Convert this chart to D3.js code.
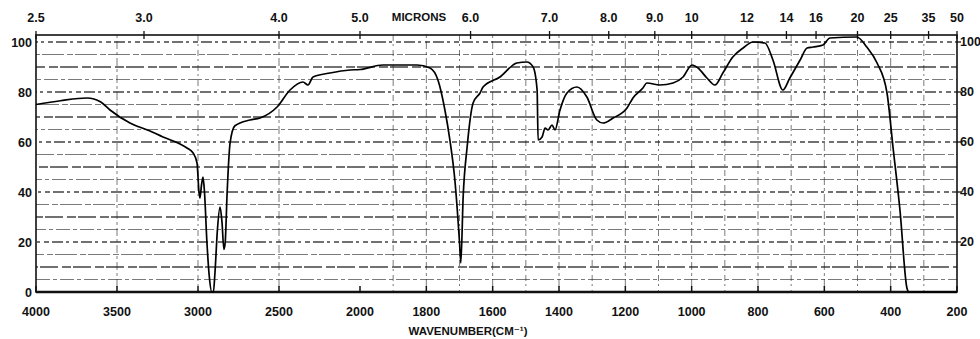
<!DOCTYPE html>
<html>
<head>
<meta charset="utf-8">
<script src="https://cdn.jsdelivr.net/npm/d3@7"></script>
<style>
  body { margin: 0; background: #fff; }
  svg { display: block; }
  text { font-family: "Liberation Sans", "DejaVu Sans", sans-serif; font-weight: bold; fill: #111; }
</style>
</head>
<body>
<div id="chart"></div>
<script>
// spectrum trace (cm-1, %T)
const wavenumbers = [4000, 3850, 3685, 3600, 3543, 3420, 3300, 3216, 3120, 3068, 3030, 3006, 2994, 2988, 2978, 2969,
  2960, 2945, 2930, 2915, 2905, 2895, 2880, 2864, 2852, 2840, 2832, 2820, 2802, 2772, 2679, 2617, 2512, 2432, 2352,
  2321, 2290, 2185, 2062, 2000, 1931, 1828, 1789, 1765, 1744, 1729, 1714, 1700, 1696, 1689, 1677, 1659, 1638, 1629,
  1578, 1527, 1497, 1478, 1466, 1463, 1451, 1442, 1433, 1421, 1412, 1397, 1376, 1346, 1316, 1286, 1267, 1237, 1195,
  1177, 1147, 1135, 1096, 1056, 1026, 999, 981, 954, 930, 906, 876, 845, 815, 779, 755, 725, 704, 673, 652, 634, 604,
  583, 502, 472, 441, 411, 393, 372, 351, 345, 200];
const transmittance = [75, 76.5, 77.6, 76, 72.8, 67.6, 64.5, 62, 59.5, 57.6, 55.6, 51.6, 40, 37.6, 43, 46,
  40, 20, 6, 0, 0, 8, 25, 34, 28, 17, 20, 40, 59.6, 66.5, 68.8, 69.6, 74, 80.8, 84,
  82.8, 86, 87.6, 88.8, 89, 90.8, 90.8, 89.6, 84.8, 72.8, 60.8, 44.8, 20, 11.6, 38, 58, 75.6, 79.6, 82,
  86, 91.6, 92, 90, 80.8, 60.8, 62, 65.6, 64.8, 66.8, 64.8, 72.8, 79.6, 82, 78, 68.8, 67.6, 69.6, 73.6,
  77.6, 81.6, 83.6, 82.8, 83.6, 86, 90.8, 89.6, 85.6, 82.8, 87.6, 94, 97.6, 100, 99.6, 92.8, 80.8, 85.6, 92.8, 97.6, 98, 98.8,
  101.6, 102, 98, 91.6, 79.6, 58, 32.8, 1.6, 0, 0];

const wnTicks = [4000, 3500, 3000, 2500, 2000, 1800, 1600, 1400, 1200, 1000, 800, 600, 400, 200];
const micronTicks = [2.5, 3.0, 4.0, 5.0, 6.0, 7.0, 8.0, 9.0, 10, 12, 14, 16, 20, 25, 35, 50];
const micronLabels = ["2.5", "3.0", "4.0", "5.0", "6.0", "7.0", "8.0", "9.0", "10", "12", "14", "16", "20", "25", "35", "50"];
const leftTicks = [0, 20, 40, 60, 80, 100];
const rightTicks = [20, 40, 60, 80, 100];

const width = 980, height = 339;
const plotLeft = 36, plotRight = 957, plotTop = 35, plotBottom = 292;

const svg = d3.select('#chart').append('svg')
  .attr('width', width)
  .attr('height', height);

// chart paper: 4000-2000 compressed, 2000-200 expanded
const x = d3.scaleLinear().domain([4000, 2000, 200]).range([plotLeft, 360, plotRight]);
const y = d3.scaleLinear().domain([0, 100]).range([plotBottom, 42]);

// grid, dashed like the printed paper
const dashes = ['14,3,4,3', '9,2,18,4', '22,3,6,2', '5,3,11,3,3,4'];
const hgrid = d3.range(5, 101, 5);
svg.append('g').selectAll('line')
  .data(hgrid)
  .enter().append('line')
  .attr('x1', plotLeft).attr('x2', plotRight)
  .attr('y1', d => y(d)).attr('y2', d => y(d))
  .attr('stroke', '#222')
  .attr('stroke-width', d => d % 10 === 0 ? 1.4 : 1.1)
  .attr('stroke-opacity', d => d % 10 === 0 ? 0.85 : 0.6)
  .attr('stroke-dasharray', (d, i) => dashes[i % dashes.length])
  .attr('stroke-dashoffset', (d, i) => i * 7);

const vgrid = [3500, 3000, 2500].concat(d3.range(1900, 250, -100));
svg.append('g').selectAll('line')
  .data(vgrid)
  .enter().append('line')
  .attr('x1', d => x(d)).attr('x2', d => x(d))
  .attr('y1', plotTop).attr('y2', plotBottom)
  .attr('stroke', '#222')
  .attr('stroke-width', 1)
  .attr('stroke-opacity', 0.6)
  .attr('stroke-dasharray', (d, i) => i % 2 ? '6,3,2,4' : '3,3,8,3');

// frame
svg.append('rect')
  .attr('x', plotLeft).attr('y', plotTop)
  .attr('width', plotRight - plotLeft).attr('height', plotBottom - plotTop)
  .attr('fill', 'none')
  .attr('stroke', '#111')
  .attr('stroke-width', 1.6);
svg.append('line')
  .attr('x1', plotLeft).attr('x2', plotRight)
  .attr('y1', plotBottom).attr('y2', plotBottom)
  .attr('stroke', '#111').attr('stroke-width', 2.6);

// bottom axis
svg.append('g').selectAll('line')
  .data(wnTicks)
  .enter().append('line')
  .attr('x1', d => x(d)).attr('x2', d => x(d))
  .attr('y1', plotBottom).attr('y2', plotBottom - 6)
  .attr('stroke', '#111').attr('stroke-width', 1.5);
svg.append('g').selectAll('text')
  .data(wnTicks)
  .enter().append('text')
  .attr('x', d => x(d))
  .attr('y', 316)
  .attr('text-anchor', 'middle')
  .attr('font-size', 12.5)
  .text(d => d);
svg.append('text')
  .attr('x', 468).attr('y', 335)
  .attr('text-anchor', 'middle')
  .attr('font-size', 11.5)
  .attr('font-weight', 'normal')
  .text('WAVENUMBER(CM⁻¹)');

// top axis in microns
svg.append('g').selectAll('line')
  .data(micronTicks)
  .enter().append('line')
  .attr('x1', d => x(10000 / d)).attr('x2', d => x(10000 / d))
  .attr('y1', plotTop - 4).attr('y2', plotTop + 4)
  .attr('stroke', '#111').attr('stroke-width', 1.3);
svg.append('g').selectAll('text')
  .data(micronTicks)
  .enter().append('text')
  .attr('x', d => x(10000 / d))
  .attr('y', 22)
  .attr('text-anchor', 'middle')
  .attr('font-size', 12.5)
  .text((d, i) => micronLabels[i]);
svg.append('text')
  .attr('x', 419).attr('y', 21)
  .attr('text-anchor', 'middle')
  .attr('font-size', 11.5)
  .attr('font-weight', 'normal')
  .text('MICRONS');

// %T labels both sides
svg.append('g').selectAll('text')
  .data(leftTicks)
  .enter().append('text')
  .attr('x', 32)
  .attr('y', d => y(d) + 5)
  .attr('text-anchor', 'end')
  .attr('font-size', 12.5)
  .text(d => d);
svg.append('g').selectAll('line')
  .data(rightTicks)
  .enter().append('line')
  .attr('x1', plotRight).attr('x2', plotRight + 4)
  .attr('y1', d => y(d)).attr('y2', d => y(d))
  .attr('stroke', '#111').attr('stroke-width', 1.3);
svg.append('g').selectAll('text')
  .data(rightTicks)
  .enter().append('text')
  .attr('x', 960)
  .attr('y', d => y(d) + 4)
  .attr('text-anchor', 'start')
  .attr('font-size', 12.5)
  .text(d => d);

// spectrum
const pts = wavenumbers.map((w, i) => [w, transmittance[i]]);
const line = d3.line()
  .x(d => x(d[0]))
  .y(d => y(d[1]))
  .curve(d3.curveMonotoneX);
svg.append('path')
  .datum(pts)
  .attr('fill', 'none')
  .attr('stroke', '#000')
  .attr('stroke-width', 1.7)
  .attr('stroke-linejoin', 'round')
  .attr('d', line);
</script>
</body>
</html>
